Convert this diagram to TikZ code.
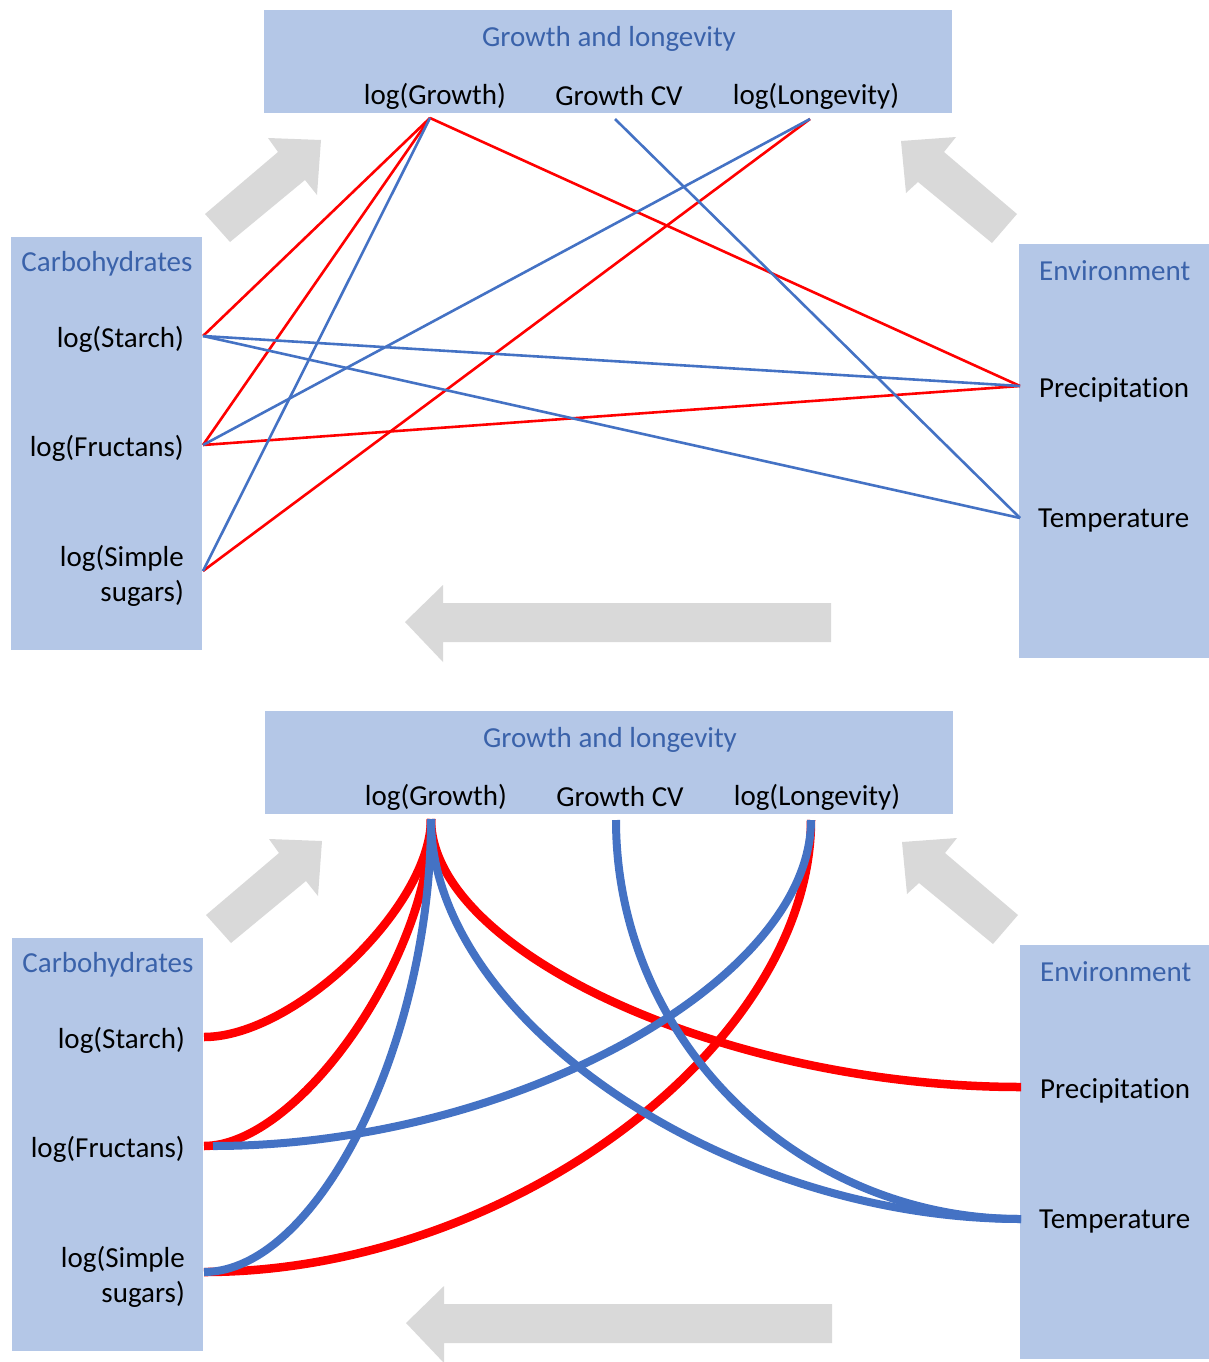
\documentclass[tikz,border=0pt]{standalone}
\usepackage{fontspec}
\setmainfont{Carlito}[Ligatures=NoCommon]
\definecolor{boxfill}{RGB}{180,199,231}
\definecolor{headblue}{RGB}{58,98,170}
\definecolor{linkblue}{RGB}{68,114,196}
\definecolor{linkred}{RGB}{255,0,0}
\definecolor{arrowgray}{RGB}{217,217,217}
\tikzset{
  panelbox/.style={fill=boxfill, draw=none, inner sep=0pt, outer sep=0pt},
  headtext/.style={text=headblue, inner sep=0pt},
  itemtext/.style={text=black, inner sep=0pt},
  bigarrow/.style={fill=arrowgray},
  thinred/.style={draw=linkred, line width=2.6pt},
  thinblue/.style={draw=linkblue, line width=2.6pt},
  thickred/.style={draw=linkred, line width=8.5pt},
  thickblue/.style={draw=linkblue, line width=8pt}
}
\newcommand\drawpanel{%
  \node[panelbox, minimum width=688pt, minimum height=103pt] (gbox) at (608,61.5) {};
  \node[panelbox, minimum width=191pt, minimum height=413pt] (cbox) at (106.5,443.5) {};
  \node[panelbox, minimum width=190pt, minimum height=414pt] (ebox) at (1114,451) {};
  \node[headtext] (gtitle) at (609,38.5) {Growth and longevity};
  \node[itemtext] (growth) at (435,96.5) {log(Growth)};
  \node[itemtext] (gcv) at (619,96) {Growth CV};
  \node[itemtext] (longev) at (816,96.5) {log(Longevity)};
  \node[headtext] (ctitle) at (107,263.5) {Carbohydrates};
  \node[itemtext, anchor=east] (starch) at (184,339.5) {log(Starch)};
  \node[itemtext, anchor=east] (fruct) at (184,448.5) {log(Fructans)};
  \node[itemtext, anchor=east, align=right] (simple) at (184,576) {log(Simple\\sugars)};
  \node[headtext, anchor=west] (etitle) at (1039,271) {Environment};
  \node[itemtext, anchor=west] (precip) at (1039,389.5) {Precipitation};
  \node[itemtext, anchor=west] (temp) at (1038,521) {Temperature};
  \fill[bigarrow] (205,214) -- (278,152) -- (268,138) -- (321,140) -- (317,195) -- (305,180) -- (230,242) -- cycle;
  \fill[bigarrow] (901,141) -- (956,137) -- (944,152) -- (1017,214) -- (992,243) -- (918,182) -- (906,193) -- cycle;
  \fill[bigarrow] (831,603) -- (443,603) -- (443,585) -- (405,622) -- (443,662) -- (443,642) -- (831,642) -- cycle;
  \coordinate (pG) at (430,118);
  \coordinate (pCV) at (615,119);
  \coordinate (pL) at (810,119);
  \coordinate (pS) at (203,336);
  \coordinate (pF) at (203,445);
  \coordinate (pFb) at (212,445);
  \coordinate (pSS) at (203,571);
  \coordinate (pP) at (1020,386);
  \coordinate (pT) at (1020,518);
}
\begin{document}
\begin{tikzpicture}[x=1pt, y=-1pt, font=\fontsize{29}{35}\selectfont]
\useasboundingbox (0,0) rectangle (1209,1362);
% top panel
\begin{scope}[name prefix=a-]
  \drawpanel
  \draw[thinred] (pG) -- (pS);
  \draw[thinred] (pG) -- (pF);
  \draw[thinred] (pG) -- (pP);
  \draw[thinred] (pL) -- (pSS);
  \draw[thinred] (pF) -- (pP);
  \draw[thinblue] (pG) -- (pSS);
  \draw[thinblue] (pL) -- (pF);
  \draw[thinblue] (pCV) -- (pT);
  \draw[thinblue] (pS) -- (pP);
  \draw[thinblue] (pS) -- (pT);
\end{scope}
% bottom panel
\begin{scope}[name prefix=b-, shift={(1,701)}]
  \drawpanel
  \draw[thickred] (pG) .. controls +(0,87) and +(91,0) .. (pS);
  \draw[thickred] (pG) .. controls +(0,137) and +(95,0) .. (pF);
  \draw[thickred] (pG) .. controls +(0,133) and +(-295,0) .. (pP);
  \draw[thickred] (pL) .. controls +(0,226) and +(304,0) .. (pSS);
  \draw[thickblue] (pG) .. controls +(0,225) and +(113,0) .. (pSS);
  \draw[thickblue] (pG) .. controls +(0,200) and +(-295,0) .. (pT);
  \draw[thickblue] (pCV) .. controls +(0,220) and +(-223,0) .. (pT);
  \draw[thickblue] (pL) .. controls +(0,162) and +(298,0) .. (pFb);
\end{scope}
\end{tikzpicture}
\end{document}
